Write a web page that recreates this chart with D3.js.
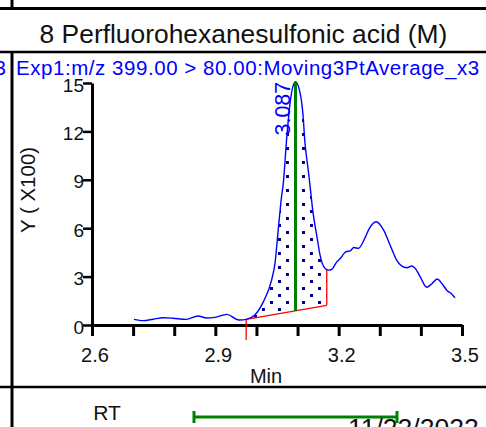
<!DOCTYPE html>
<html>
<head>
<meta charset="utf-8">
<script src="https://cdn.jsdelivr.net/npm/d3@7"></script>
<style>
  html, body { margin: 0; padding: 0; background: #fff; }
  svg { display: block; }
  text { font-family: "Liberation Sans", Arial, sans-serif; }
</style>
</head>
<body>
<svg id="chart" width="486" height="427"></svg>
<script>
// ---- data ----
const title = "8 Perfluorohexanesulfonic acid (M)";
const traceLabel = "Exp1:m/z 399.00 > 80.00:Moving3PtAverage_x3";
const yLabel = "Y ( X100)";
const xLabel = "Min";
const rtLabel = "3.087";
const xTicks = [2.6, 2.7, 2.8, 2.9, 3.0, 3.1, 3.2, 3.3, 3.4, 3.5];
const xTickLabels = ["2.6", "", "", "2.9", "", "", "3.2", "", "", "3.5"];
const yTicks = [0, 3, 6, 9, 12, 15];
const times = [2.702, 2.725, 2.749, 2.773, 2.797, 2.829, 2.858, 2.879, 2.899, 2.928, 2.952, 2.960, 2.975,
  2.996, 3.017, 3.037, 3.045, 3.053, 3.061, 3.065, 3.074, 3.082, 3.090, 3.095, 3.106, 3.113, 3.118,
  3.126, 3.130, 3.138, 3.147, 3.155, 3.167, 3.175, 3.183, 3.195, 3.203, 3.218, 3.228, 3.237, 3.248,
  3.264, 3.275, 3.291, 3.309, 3.325, 3.340, 3.353, 3.366, 3.378, 3.388, 3.400, 3.414, 3.426, 3.440,
  3.452, 3.464, 3.473, 3.483];
const intensity = [0.35, 0.27, 0.36, 0.45, 0.42, 0.35, 0.56, 0.43, 0.47, 0.66, 0.35, 0.31, 0.35,
  0.62, 1.45, 2.8, 3.8, 5.9, 7.95, 8.7, 11.7, 13.8, 14.9, 15.08, 14.4, 13.1, 11.3,
  9.6, 8.7, 6.9, 5.5, 4.3, 3.5, 3.4, 3.45, 3.9, 4.1, 4.55, 4.6, 4.8, 4.75,
  5.4, 6.0, 6.4, 5.9, 4.96, 4.07, 3.66, 3.55, 3.66, 3.45, 2.9, 2.34, 2.54, 2.85,
  2.54, 2.13, 1.97, 1.69];
const peakStart = [2.975, 0.35];   // baseline start (time, value)
const peakEnd = [3.171, 1.22];     // baseline end (time, value)
const peakApex = 3.095;
const rtBar = ["RT", "11/22/2022"];

// ---- layout ----
const W = 486, H = 427;
const svg = d3.select("#chart");
const x = d3.scaleLinear().domain([2.6, 3.5]).range([92, 462]);
const y = d3.scaleLinear().domain([0, 15]).range([325, 83]);
const pts = times.map((t, i) => [t, intensity[i]]);

// frame
const frame = svg.append("g").attr("stroke", "#000");
frame.append("line").attr("x1", 0).attr("x2", W).attr("y1", 8.5).attr("y2", 8.5).attr("stroke-width", 3);
frame.append("line").attr("x1", 12).attr("x2", 12).attr("y1", 0).attr("y2", 8.5).attr("stroke-width", 3);
frame.append("line").attr("x1", 0).attr("x2", W).attr("y1", 52).attr("y2", 52).attr("stroke-width", 2.5);
frame.append("line").attr("x1", 12).attr("x2", 12).attr("y1", 52).attr("y2", H).attr("stroke-width", 3);
frame.append("line").attr("x1", 0).attr("x2", W).attr("y1", 387).attr("y2", 387).attr("stroke-width", 2.5);

svg.append("text").attr("x", 243.5).attr("y", 43).attr("text-anchor", "middle")
  .attr("font-size", 26.4).attr("fill", "#111").text(title);
svg.append("text").attr("x", 16).attr("y", 75).attr("font-size", 20.5).attr("letter-spacing", 0.55)
  .attr("fill", "#0000ff").text(traceLabel);
svg.append("text").attr("x", 6).attr("y", 75).attr("text-anchor", "end").attr("font-size", 20.5).attr("fill", "#0000ff").text("3");

// dot pattern
const defs = svg.append("defs");
const pat = defs.append("pattern").attr("id", "dots").attr("patternUnits", "userSpaceOnUse")
  .attr("width", 16).attr("height", 14).attr("x", 14).attr("y", 7);
pat.append("rect").attr("x", 0).attr("y", 0).attr("width", 3).attr("height", 3).attr("fill", "#000080")
  .attr("shape-rendering", "crispEdges");
pat.append("rect").attr("x", 8).attr("y", 7).attr("width", 3).attr("height", 3).attr("fill", "#000080")
  .attr("shape-rendering", "crispEdges");

// peak area: curve between start & end, closed along baseline
const lineGen = d3.line().x(d => x(d[0])).y(d => y(d[1])).curve(d3.curveMonotoneX);
function valAt(t) {
  for (let i = 0; i < pts.length - 1; i++) {
    if (t >= pts[i][0] && t <= pts[i + 1][0]) {
      const f = (t - pts[i][0]) / (pts[i + 1][0] - pts[i][0]);
      return pts[i][1] + f * (pts[i + 1][1] - pts[i][1]);
    }
  }
  return 0;
}
const inner = pts.filter(d => d[0] > peakStart[0] && d[0] < peakEnd[0]);
const areaPts = [[peakStart[0], valAt(peakStart[0])], ...inner, [peakEnd[0], valAt(peakEnd[0])]];
const areaPath = lineGen(areaPts) + "L" + x(peakEnd[0]) + "," + y(peakEnd[1]) + "L" + x(peakStart[0]) + "," + y(peakStart[1]) + "Z";
svg.append("path").attr("d", areaPath).attr("fill", "url(#dots)").attr("stroke", "none");

// axes
const xAxis = d3.axisBottom(x).tickValues(xTicks).tickSize(11).tickSizeOuter(0)
  .tickFormat((d, i) => xTickLabels[i]);
const gx = svg.append("g").attr("transform", "translate(0,325)").call(xAxis);
gx.select(".domain").attr("stroke", "#000").attr("stroke-width", 3);
gx.selectAll(".tick line").attr("stroke", "#000").attr("stroke-width", 3);
gx.selectAll(".tick text").attr("y", 37).attr("dy", 0).attr("dx", 2.5)
  .attr("font-size", 20).attr("fill", "#111").attr("font-family", "Liberation Sans, Arial, sans-serif");

const yAxis = d3.axisLeft(y).tickValues(yTicks).tickSize(9).tickPadding(-1).tickSizeOuter(0).tickFormat(d3.format("d"));
const gy = svg.append("g").attr("transform", "translate(92,0)").call(yAxis);
gy.select(".domain").attr("stroke", "#000").attr("stroke-width", 3);
gy.selectAll(".tick line").attr("stroke", "#000").attr("stroke-width", 2.5);
gy.selectAll(".tick text").attr("dy", 8).attr("font-size", 19).attr("fill", "#111")
  .attr("font-family", "Liberation Sans, Arial, sans-serif");

svg.append("text").attr("x", 266).attr("y", 383).attr("text-anchor", "middle").attr("font-size", 20)
  .attr("fill", "#111").text(xLabel);
svg.append("text").attr("transform", "translate(35,190) rotate(-90)").attr("text-anchor", "middle")
  .attr("font-size", 20.5).attr("fill", "#111").text(yLabel);

// baseline and boundaries
svg.append("line").attr("x1", x(peakStart[0])).attr("y1", y(peakStart[1])).attr("x2", x(peakEnd[0])).attr("y2", y(peakEnd[1]))
  .attr("stroke", "#ff0000").attr("stroke-width", 1.3);
svg.append("line").attr("x1", x(peakStart[0])).attr("x2", x(peakStart[0])).attr("y1", y(peakStart[1])).attr("y2", 340)
  .attr("stroke", "#ff0000").attr("stroke-width", 1.3);
svg.append("line").attr("x1", x(peakEnd[0])).attr("x2", x(peakEnd[0])).attr("y1", y(peakEnd[1])).attr("y2", y(valAt(peakEnd[0])))
  .attr("stroke", "#ff0000").attr("stroke-width", 1.3);

// chromatogram trace
svg.append("path").attr("d", lineGen(pts)).attr("fill", "none").attr("stroke", "#0000ff").attr("stroke-width", 1.4);

// apex marker
const baseAtApex = peakStart[1] + (peakApex - peakStart[0]) / (peakEnd[0] - peakStart[0]) * (peakEnd[1] - peakStart[1]);
svg.append("line").attr("x1", x(peakApex)).attr("x2", x(peakApex)).attr("y1", y(valAt(peakApex))).attr("y2", y(baseAtApex))
  .attr("stroke", "#008000").attr("stroke-width", 3);
svg.append("text").attr("transform", `translate(${x(peakApex) - 5.5},${y(valAt(peakApex))}) rotate(-90)`)
  .attr("text-anchor", "end").attr("font-size", 21.5).attr("fill", "#0000ff").text(rtLabel);

// bottom RT row
svg.append("text").attr("x", 107).attr("y", 420).attr("text-anchor", "middle").attr("font-size", 21).attr("fill", "#111").text(rtBar[0]);
const bar = svg.append("g").attr("stroke", "#008000").attr("stroke-width", 3);
bar.append("line").attr("x1", 194).attr("x2", 397).attr("y1", 417).attr("y2", 417);
bar.append("line").attr("x1", 194).attr("x2", 194).attr("y1", 411).attr("y2", 423);
bar.append("line").attr("x1", 397).attr("x2", 397).attr("y1", 411).attr("y2", 423);
svg.append("text").attr("x", 348).attr("y", 437).attr("font-size", 26.5).attr("fill", "#111").text(rtBar[1]);
</script>
</body>
</html>
